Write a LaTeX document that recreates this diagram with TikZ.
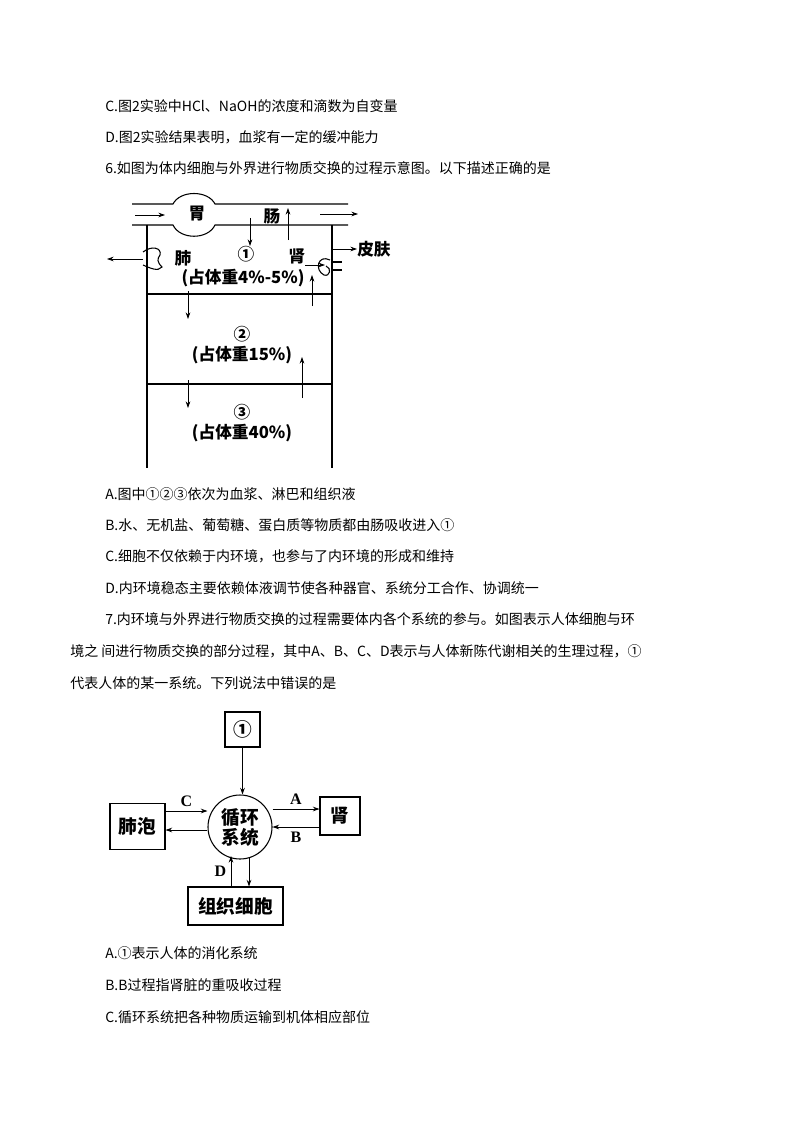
\documentclass[tikz,border=0pt]{standalone}
\usepackage{fontspec}
\setmainfont{Liberation Serif}
\newfontfamily\cjk{Noto Sans CJK SC}
\usetikzlibrary{arrows.meta,positioning}

\begin{document}
\begin{tikzpicture}[x=0.75pt, y=-0.75pt,
    line/.style={anchor=west, font=\cjk\fontsize{10.5pt}{12pt}\selectfont, inner sep=0pt},
    lbl/.style={font=\cjk\fontsize{12.5pt}{14pt}\selectfont\bfseries, inner sep=0pt},
    box/.style={draw, thick, font=\cjk\fontsize{14pt}{15pt}\selectfont\bfseries, inner sep=3pt},
    arr/.style={-{Stealth[length=5pt,width=3.5pt]}, semithick}
]
    \useasboundingbox (0,0) rectangle (793,1123);

    % Text above
    \node[line] (tc) at (105,106) {C.图2实验中HCl、NaOH的浓度和滴数为自变量};
    \node[line] (td) at (105,137) {D.图2实验结果表明，血浆有一定的缓冲能力};
    \node[line] (q6) at (105,168) {6.如图为体内细胞与外界进行物质交换的过程示意图。以下描述正确的是};

    % Figure 1: tube
    \draw[thick] (132,204) -- (173,204) .. controls (180,190) and (208,190) .. (215,204) -- (348,204);
    \draw[thick] (132,225) -- (173,225) .. controls (180,240) and (208,240) .. (215,225) -- (348,225);
    \draw[arr] (135,215) -- (165,215);
    \draw[arr] (320,214) -- (358,214);
    \node[lbl] (wei) at (197,214) {胃};
    \node[lbl] (chang) at (272,216) {肠};
    \draw[arr] (250,218) -- (250,246);
    \draw[arr] (288,240) -- (288,208);

    % Figure 1: frame
    \draw[thick] (147,225) -- (147,468) (332,225) -- (332,468);
    \draw[thick] (147,294) -- (332,294) (147,384) -- (332,384);

    % lung and kidney
    \draw[thick] (143,252) .. controls (152,245) and (162,248) .. (160,255)
        .. controls (157,259) and (157,262) .. (162,267) .. controls (158,272) and (150,268) .. (143,265);
    \draw[arr] (143,259) -- (107,259);
    \node[lbl] (fei) at (183,258) {肺};
    \node[lbl] (n1) at (246,254) {①};
    \node[lbl] (shen) at (297,256) {肾};
    \draw[thick] (330,260) .. controls (318,254) and (314,270) .. (324,275)
        .. controls (330,277) and (332,268) .. (326,266);
    \draw[thick] (332,262) -- (342,262) (332,270) -- (342,270);
    \draw[arr] (305,265) -- (325,265);
    \draw[arr] (332,249) -- (357,249);
    \node[lbl, anchor=west] (pifu) at (357,249) {皮肤};
    \node[lbl] (p1) at (243,278) {(占体重4\%-5\%)};

    \draw[arr] (188,291) -- (188,319);
    \draw[arr] (312,306) -- (312,275);
    \node[lbl] (n2) at (242,334) {②};
    \node[lbl] (p2) at (242,355) {(占体重15\%)};

    \draw[arr] (188,380) -- (188,408);
    \draw[arr] (302,398) -- (302,357);
    \node[lbl] (n3) at (242,412) {③};
    \node[lbl] (p3) at (242,433) {(占体重40\%)};

    % Options 6
    \node[line] (a6) at (105,494) {A.图中①②③依次为血浆、淋巴和组织液};
    \node[line] (b6) at (105,525) {B.水、无机盐、葡萄糖、蛋白质等物质都由肠吸收进入①};
    \node[line] (c6) at (105,556) {C.细胞不仅依赖于内环境，也参与了内环境的形成和维持};
    \node[line] (d6) at (105,588) {D.内环境稳态主要依赖体液调节使各种器官、系统分工合作、协调统一};
    \node[line] (q7a) at (105,619) {7.内环境与外界进行物质交换的过程需要体内各个系统的参与。如图表示人体细胞与环};
    \node[line] (q7b) at (70,651) {境之 间进行物质交换的部分过程，其中A、B、C、D表示与人体新陈代谢相关的生理过程，①};
    \node[line] (q7c) at (70,683) {代表人体的某一系统。下列说法中错误的是};

    % Figure 2
    \node[circle, draw, thick, minimum size=64pt*0.75, inner sep=0pt, align=center,
          font=\cjk\fontsize{14pt}{15pt}\selectfont\bfseries] (xh) at (240,827) {循环\\系统};
    \node[box, minimum width=35pt*0.75, minimum height=35pt*0.75] (sys) at (242.5,729.5) {①};
    \node[box, minimum width=55pt*0.75, minimum height=46pt*0.75] (fp) at (137.5,826.5) {肺泡};
    \node[box, minimum width=40pt*0.75, minimum height=38pt*0.75] (sz) at (340,816) {肾};
    \node[box, minimum width=95pt*0.75, minimum height=38pt*0.75] (zz) at (235.5,906) {组织细胞};

    \draw[arr] (sys.south) -- (sys.south |- xh.north);
    \draw[arr] (fp.east |- 0,811) -- node[above, font=\large\bfseries] {C} (xh.west |- 0,811);
    \draw[arr] (xh.west |- 0,830) -- (fp.east |- 0,830);
    \draw[arr] (xh.east |- 0,809) -- node[above, font=\large\bfseries] {A} (sz.west |- 0,809);
    \draw[arr] (sz.west |- 0,827) -- node[below, font=\large\bfseries] {B} (xh.east |- 0,827);
    \draw[arr] (zz.north -| 231,0) -- node[left, font=\large\bfseries] {D} (231,856);
    \draw[arr] (249,857) -- (zz.north -| 249,0);

    % Options 7
    \node[line] (a7) at (105,953) {A.①表示人体的消化系统};
    \node[line] (b7) at (105,985) {B.B过程指肾脏的重吸收过程};
    \node[line] (c7) at (105,1017) {C.循环系统把各种物质运输到机体相应部位};
\end{tikzpicture}
\end{document}
